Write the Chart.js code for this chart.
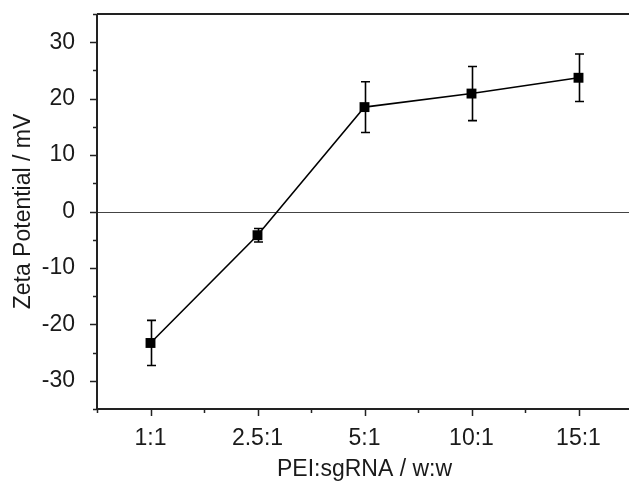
<!DOCTYPE html>
<html>
<head>
<meta charset="utf-8">
<script src="https://cdn.jsdelivr.net/npm/chart.js@4/dist/chart.umd.min.js"></script>
<style>
  html, body { margin: 0; padding: 0; background: #fff; overflow: hidden; }
  #wrap { width: 629px; height: 489px; overflow: hidden; position: relative; }
  #grafico { position: absolute; left: 0; top: 0; }
</style>
</head>
<body>
<div id="wrap">
  <canvas id="grafico" width="640" height="489"></canvas>
</div>
<script>
// datos
const categorias = ['1:1', '2.5:1', '5:1', '10:1', '15:1'];
const potencialZeta = [-23.3, -4.2, 18.5, 20.9, 23.7];
const errores = [4.0, 1.2, 4.5, 4.8, 4.2];
const ticksY = [-30, -20, -10, 0, 10, 20, 30];

const colorTexto = '#1a1a1a';
const fuente = { family: 'Liberation Sans, Arial, sans-serif', size: 23 };

// plugin: ejes, marcas, linea del cero y barras de error
const ejesYErrores = {
    id: 'ejesYErrores',
    beforeDatasetsDraw(chart) {
        const ctx = chart.ctx;
        const area = chart.chartArea;
        const x = chart.scales.x;
        const y = chart.scales.y;
        ctx.save();

        // linea del cero
        ctx.strokeStyle = '#444';
        ctx.lineWidth = 1.2;
        ctx.beginPath();
        ctx.moveTo(area.left, Math.round(y.getPixelForValue(0)) + 0.5);
        ctx.lineTo(area.right, Math.round(y.getPixelForValue(0)) + 0.5);
        ctx.stroke();

        // barras de error
        ctx.strokeStyle = '#000';
        ctx.lineWidth = 1.6;
        potencialZeta.forEach(function (v, i) {
            const px = Math.round(x.getPixelForValue(i)) + 0.5;
            const yArriba = y.getPixelForValue(v + errores[i]);
            const yAbajo = y.getPixelForValue(v - errores[i]);
            ctx.beginPath();
            ctx.moveTo(px, yArriba);
            ctx.lineTo(px, yAbajo);
            ctx.moveTo(px - 4.5, yArriba);
            ctx.lineTo(px + 4.5, yArriba);
            ctx.moveTo(px - 4.5, yAbajo);
            ctx.lineTo(px + 4.5, yAbajo);
            ctx.stroke();
        });
        ctx.restore();
    },
    afterDraw(chart) {
        const ctx = chart.ctx;
        const area = chart.chartArea;
        const x = chart.scales.x;
        const y = chart.scales.y;
        ctx.save();
        ctx.strokeStyle = '#222';
        ctx.lineWidth = 2;
        ctx.beginPath();
        // marco: izquierda, abajo, arriba
        ctx.moveTo(area.left, area.top);
        ctx.lineTo(area.left, area.bottom);
        ctx.lineTo(area.right, area.bottom);
        ctx.moveTo(area.left, area.top);
        ctx.lineTo(area.right, area.top);
        ctx.stroke();

        ctx.lineWidth = 1.5;
        ctx.beginPath();
        // marcas del eje Y (cada 5, largas cada 10)
        for (let v = -35; v <= 35; v += 5) {
            const py = Math.round(y.getPixelForValue(v)) + 0.5;
            const largo = ticksY.includes(v) ? 7 : 4;
            ctx.moveTo(area.left, py);
            ctx.lineTo(area.left - largo, py);
        }
        // marcas del eje X
        for (let i = 0; i < categorias.length; i++) {
            const px = Math.round(x.getPixelForValue(i)) + 0.5;
            ctx.moveTo(px, area.bottom);
            ctx.lineTo(px, area.bottom + 7);
            const pm = Math.round(x.getPixelForValue(i - 0.5)) + 0.5;
            ctx.moveTo(pm, area.bottom);
            ctx.lineTo(pm, area.bottom + 4);
        }
        ctx.stroke();
        ctx.restore();
    }
};

const ctx = document.getElementById('grafico').getContext('2d');
new Chart(ctx, {
    type: 'line',
    data: {
        labels: categorias,
        datasets: [{
            label: 'Zeta',
            data: potencialZeta,
            borderColor: '#000',
            borderWidth: 1.6,
            backgroundColor: '#000',
            pointStyle: 'rect',
            pointRadius: 7,
            pointBorderWidth: 0,
            pointBackgroundColor: '#000',
            tension: 0
        }]
    },
    options: {
        responsive: false,
        animation: false,
        layout: { padding: { top: 0, right: 8, left: 0, bottom: 0 } },
        plugins: {
            legend: { display: false },
            tooltip: { enabled: false }
        },
        scales: {
            x: {
                offset: true,
                grid: { display: false },
                border: { display: false },
                ticks: { color: colorTexto, font: fuente, padding: 8, maxRotation: 0 },
                title: {
                    display: true,
                    text: 'PEI:sgRNA / w:w',
                    color: colorTexto,
                    font: fuente,
                    padding: { top: 0, bottom: 6 }
                },
                afterFit(s) {
                    s.height = 80;
                    s.paddingLeft = 0;
                    s.paddingRight = 0;
                }
            },
            y: {
                min: -35,
                max: 35,
                grid: { display: false },
                border: { display: false },
                ticks: {
                    stepSize: 5,
                    autoSkip: false,
                    color: colorTexto,
                    font: fuente,
                    padding: 14,
                    callback: function (v) {
                        return ticksY.includes(v) ? String(v) : '';
                    }
                },
                title: {
                    display: true,
                    text: 'Zeta Potential / mV',
                    color: colorTexto,
                    font: fuente,
                    padding: { top: 10, bottom: 0 }
                },
                afterFit(s) {
                    s.width = 97;
                    s.paddingTop = 14;
                    s.paddingBottom = 0;
                }
            }
        }
    },
    plugins: [ejesYErrores]
});
</script>
</body>
</html>
